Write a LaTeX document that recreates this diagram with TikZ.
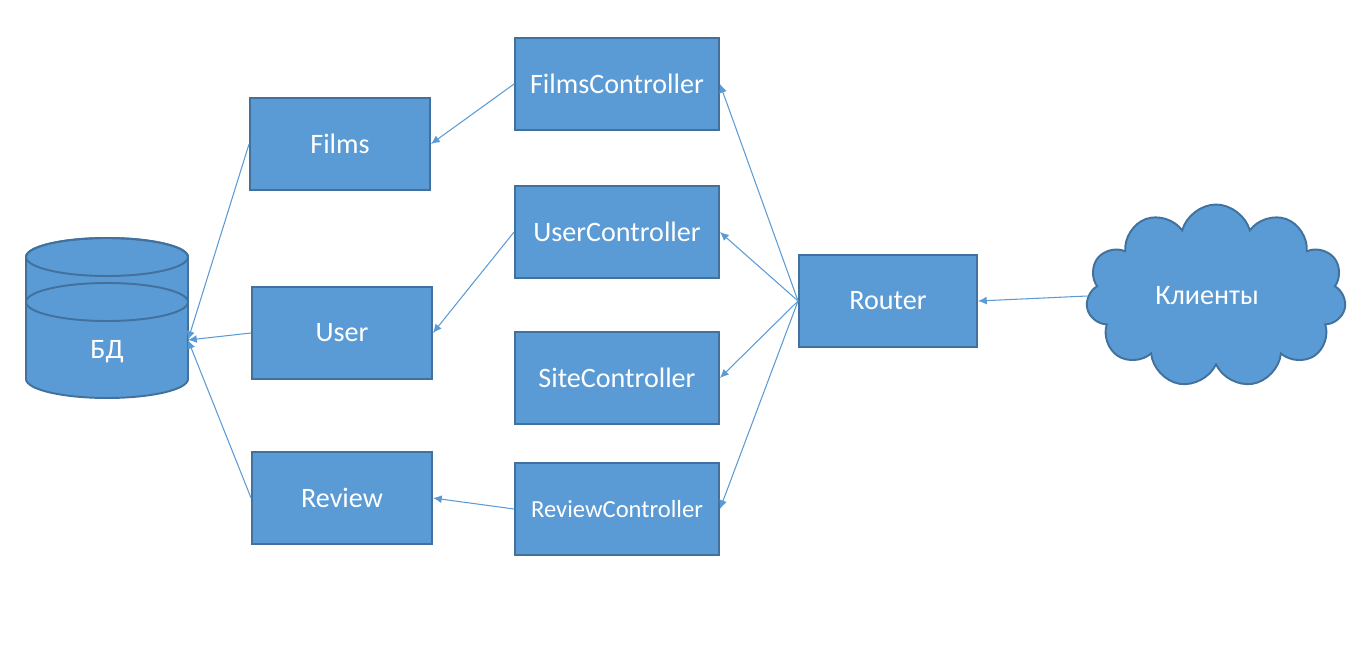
\documentclass[tikz,border=0pt]{standalone}
\usepackage{fontspec}
\setmainfont{Carlito}
\usetikzlibrary{shapes.symbols,arrows.meta}
\definecolor{boxfill}{HTML}{5B9BD5}
\definecolor{boxline}{HTML}{41719C}

\begin{document}
\begin{tikzpicture}[x=0.02cm,y=0.02cm]
		\tikzstyle{block}=[draw=boxline,fill=boxfill,line width=1.1pt,rectangle,text=white,text centered,inner sep=0pt,minimum height=1.84cm,font=\fontsize{16}{18}\selectfont]
		\tikzstyle{link}=[draw=boxfill,line width=0.6pt,-{Latex[length=5pt,width=4.5pt]}]

		\useasboundingbox (0,0) rectangle (1365,-652);

		% database
		\filldraw[fill=boxfill,draw=boxline,line width=1.1pt] (26,-257) -- (26,-379) arc[start angle=180,end angle=360,x radius=81,y radius=19] -- (188,-257) arc[start angle=0,end angle=180,x radius=81,y radius=19] -- cycle;
		\draw[boxline,line width=1.1pt] (107,-257) ellipse[x radius=81,y radius=19];
		\draw[boxline,line width=1.1pt] (107,-302) ellipse[x radius=81,y radius=19];
		\node[text=white,font=\fontsize{16}{18}\selectfont] (db) at (107,-352) {БД};
		\coordinate (dbin) at (188,-340);

		\node[block,minimum width=3.6cm] (films) at (340,-144) {Films};
		\node[block,minimum width=3.6cm] (user) at (342,-333) {User};
		\node[block,minimum width=3.6cm] (review) at (342,-498) {Review};

		\node[block,minimum width=4.08cm] (fc) at (617,-84) {FilmsController};
		\node[block,minimum width=4.08cm] (uc) at (617,-232) {UserController};
		\node[block,minimum width=4.08cm] (sc) at (617,-378) {SiteController};
		\node[block,minimum width=4.08cm,font=\fontsize{14}{16}\selectfont] (rc) at (617,-509) {ReviewController};

		\node[block,minimum width=3.56cm] (router) at (888,-301) {Router};

		\node[cloud,cloud puffs=11,aspect=1.4,draw=boxline,fill=boxfill,line width=1.1pt,text=white,font=\fontsize{16}{18}\selectfont,minimum width=5.2cm,minimum height=3.66cm] (clients) at (1216,-296) {Клиенты\hspace*{0.36cm}};

		\draw[link] (clients.west) -- (router.east);
		\draw[link] (router.west) -- (fc.east);
		\draw[link] (router.west) -- (uc.east);
		\draw[link] (router.west) -- (sc.east);
		\draw[link] (router.west) -- (rc.east);

		\draw[link] (fc.west) -- (films.east);
		\draw[link] (uc.west) -- (user.east);
		\draw[link] (rc.west) -- (review.east);

		\draw[link] (films.west) -- (dbin);
		\draw[link] (user.west) -- (dbin);
		\draw[link] (review.west) -- (dbin);

\end{tikzpicture}
\end{document}
